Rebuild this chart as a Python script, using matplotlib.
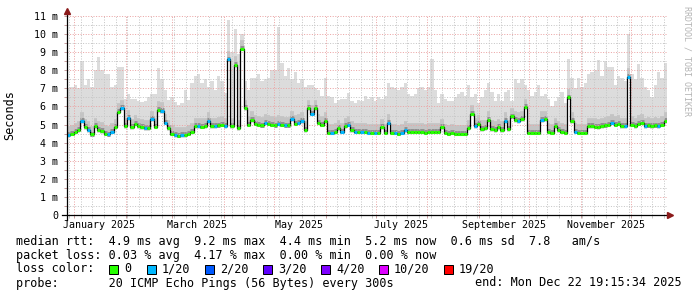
import numpy as np
import matplotlib
matplotlib.use('Agg')
import matplotlib.pyplot as plt
import matplotlib.dates as mdates
from matplotlib.patches import Rectangle
from matplotlib.transforms import blended_transform_factory

# 360 days ending Mon Dec 22 19:15:34 2025, two-day bins
start = np.datetime64('2024-12-27T19:15:34')
end = np.datetime64('2025-12-22T19:15:34')
bin_days = 2

# median rtt per bin (ms)
median = [
    4.42, 4.5, 4.6, 4.7, 5.2, 4.85, 4.7, 4.45, 4.9, 4.7,
    4.65, 4.5, 4.45, 4.6, 4.85, 5.7, 5.9, 4.9, 5.35, 4.85,
    5.05, 4.9, 4.85, 4.8, 4.8, 5.3, 4.88, 5.8, 5.75, 5.1,
    4.8, 4.5, 4.4, 4.38, 4.4, 4.4, 4.5, 4.6, 4.9, 4.9,
    4.88, 4.9, 5.2, 4.9, 4.9,
    4.95, 5.0, 4.9, 8.6, 4.9, 8.3, 4.8, 9.2, 5.9, 5.0,
    5.25, 5.05, 5.0, 4.95, 5.1, 5.05, 5.0, 4.95, 5.05, 5.0,
    4.95, 4.95, 5.3, 5.05, 5.1, 5.2, 4.7, 5.9, 5.6, 5.9,
    5.1, 5.0, 5.2, 4.55, 4.55, 4.6, 4.8, 4.6, 4.9, 5.0,
    4.7, 4.6, 4.6, 4.6, 4.6,
    4.55, 4.55, 4.55, 4.55, 4.85, 4.55, 5.1, 4.55, 4.55, 4.5,
    4.55, 4.7, 4.6, 4.6, 4.6, 4.6, 4.6, 4.55, 4.6, 4.6,
    4.6, 4.6, 4.85, 4.55, 4.5, 4.55, 4.5, 4.5, 4.5, 4.5,
    4.8, 5.6, 4.9, 5.05, 4.75, 4.8, 5.25, 4.75, 4.7, 4.85,
    4.7, 5.2, 4.75, 5.45, 5.25,
    5.2, 5.3, 5.95, 4.55, 4.55, 4.55, 4.55, 5.25, 5.3, 4.6,
    4.55, 4.9, 4.7, 4.6, 4.55, 6.5, 5.2, 4.6, 4.55, 4.55,
    4.55, 4.9, 4.9, 4.88, 4.85, 4.9, 4.95, 5.0, 5.1, 5.0,
    5.05, 4.9, 4.9, 7.65, 5.0, 4.9, 5.05, 5.1, 4.9, 4.95,
    4.9, 4.95, 4.9, 5.0, 5.2,
]

# top of the smoke (slowest ping) per bin (ms)
smoke_top = [
    7.0, 7.1, 7.2, 7.0, 8.5, 7.2, 7.5, 7.1, 8.0, 8.75,
    8.0, 7.8, 7.8, 7.1, 7.2, 8.2, 8.2, 6.4, 6.7, 6.4,
    6.4, 6.3, 6.25, 6.3, 6.5, 6.7, 6.7, 8.1, 7.5, 6.9,
    6.35, 6.5, 6.25, 6.1, 6.2, 6.9, 6.35, 7.3, 7.7, 7.8,
    7.3, 7.5, 7.1, 7.4, 6.9,
    7.7, 7.4, 6.75, 10.8, 9.0, 10.3, 8.9, 10.0, 7.4, 6.9,
    7.6, 7.6, 7.8, 7.4, 7.5, 7.6, 8.0, 8.0, 10.4, 8.4,
    7.7, 8.1, 7.5, 7.9, 7.3, 7.5, 7.1, 7.2, 7.2, 7.0,
    6.9, 6.6, 7.55, 6.6, 6.5, 6.2, 6.35, 6.4, 6.4, 6.75,
    6.3, 6.2, 6.35, 6.3, 6.6,
    6.4, 6.5, 6.3, 6.5, 6.4, 6.6, 7.3, 7.1, 7.0, 6.9,
    7.1, 7.3, 6.7, 6.6, 6.7, 7.0, 7.1, 6.9, 7.1, 8.6,
    6.9, 6.2, 6.7, 6.4, 6.3, 6.3, 6.5, 6.7, 6.8, 6.6,
    7.2, 6.5, 6.7, 6.2, 6.5, 6.9, 7.3, 6.8, 6.3, 6.7,
    6.3, 6.8, 6.9, 6.3, 7.5,
    7.3, 7.5, 7.2, 6.9, 6.6, 6.8, 7.2, 6.6, 6.7, 6.4,
    6.0, 6.3, 6.5, 6.8, 6.2, 8.6, 7.6, 7.0, 7.6, 7.1,
    7.3, 7.8, 7.9, 8.0, 8.55, 7.7, 8.5, 8.2, 8.2, 7.2,
    7.7, 7.6, 7.4, 10.0, 7.8, 7.5, 8.35, 7.6, 7.1, 6.9,
    6.5, 7.2, 7.9, 7.6, 8.4,
]

# bins that lost 1 of 20 pings, all others lost none
loss_1_bins = [0, 4, 6, 12, 13, 16, 18, 23, 25, 28, 29, 32, 34, 39, 42, 44,
               47, 48, 59, 63, 65, 67, 69, 70, 73, 79, 82, 84, 86, 88,
               90, 92, 96, 98, 100, 101, 122, 131,
               135, 142, 152, 163, 167, 168, 173, 177]

loss_labels = ['0', '1/20', '2/20', '3/20', '4/20', '10/20', '19/20']
loss_colors = ['#26ff00', '#00b8ff', '#0059ff', '#5e00ff', '#7e00ff', '#dd00ff', '#ff0000']

y_ticks = list(range(0, 12))
month_labels = ['January 2025', 'March 2025', 'May 2025', 'July 2025',
                'September 2025', 'November 2025']
month_label_dates = ['2025-01-16', '2025-03-16', '2025-05-16', '2025-07-16',
                     '2025-09-16', '2025-11-16']

stats_rtt = 'median rtt:  4.9 ms avg  9.2 ms max  4.4 ms min  5.2 ms now  0.6 ms sd  7.8   am/s'
stats_loss = 'packet loss: 0.03 % avg  4.17 % max  0.00 % min  0.00 % now'
probe_text = 'probe:       20 ICMP Echo Pings (56 Bytes) every 300s'
end_text = 'end: Mon Dec 22 19:15:34 2025'

mono = 'DejaVu Sans Mono'
W, H = 697, 297

n = len(median)
med = np.array(median)
top = np.array(smoke_top)
edges = start + np.arange(n + 1) * np.timedelta64(bin_days, 'D')
edges = edges.astype('datetime64[s]').astype(object)

fig = plt.figure(figsize=(W / 100, H / 100), dpi=100)
ax = fig.add_axes([67 / W, 82 / H, 600 / W, 199 / H])

# smoke
ax.fill_between(edges, np.append(med - 0.15, med[-1] - 0.15), np.append(top, top[-1]),
                step='post', color='#dcdcdc', lw=0, zorder=1)
ax.hlines(med + 0.2, edges[:-1], edges[1:], colors='#c4c4c4', lw=7, zorder=1.2)
ax.hlines(med + 0.05, edges[:-1], edges[1:], colors='#8e8e8e', lw=3.5, zorder=1.4)

# median line
ax.step(edges, np.append(med, med[-1]), where='post', color='black', lw=0.9, zorder=3)
cols = [loss_colors[1] if i in loss_1_bins else loss_colors[0] for i in range(n)]
ax.hlines(med, edges[:-1], edges[1:], colors=cols, lw=2.2, zorder=4)

ax.set_xlim(start.astype(object), end.astype(object))
ax.set_ylim(0, 11)

# grid
ax.xaxis.set_major_locator(mdates.MonthLocator())
ax.xaxis.set_minor_locator(mdates.WeekdayLocator(byweekday=mdates.SU))
ax.xaxis.set_major_formatter(plt.NullFormatter())
ax.set_yticks(y_ticks)
ax.set_yticks(np.arange(0.5, 11, 1.0), minor=True)
ax.set_yticklabels(['0'] + ['%d m' % v for v in y_ticks[1:]], fontfamily=mono, fontsize=7.2)
ax.grid(which='minor', color='#c6c6c6', linestyle=(0, (1, 1.6)), lw=0.72)
ax.grid(which='major', color='#eba4a4', linestyle=(0, (1, 1.6)), lw=0.72)
ax.set_axisbelow(False)
ax.tick_params(which='both', direction='out', length=2.2, width=0.72, color='#c8a0a0', pad=4)
ax.tick_params(axis='x', which='minor', color='#c8c8c8')

for s in ax.spines.values():
    s.set_visible(False)

# axes with arrows
ax.plot([-0.008, 1.0], [0, 0], transform=ax.transAxes, color='black', lw=0.9, clip_on=False, zorder=5)
ax.plot([0, 0], [-0.025, 1.02], transform=ax.transAxes, color='black', lw=0.9, clip_on=False, zorder=5)
ax.plot([1.005], [0], marker='>', ms=4.5, color='#8b1a1a', transform=ax.transAxes, clip_on=False, zorder=6)
ax.plot([0], [1.027], marker='^', ms=4.5, color='#8b1a1a', transform=ax.transAxes, clip_on=False, zorder=6)

trans = blended_transform_factory(ax.transData, ax.transAxes)
for lab, d in zip(month_labels, month_label_dates):
    ax.text(np.datetime64(d).astype(object), -0.052, lab, transform=trans, ha='center', va='center',
            fontfamily=mono, fontsize=7.2)

fig.text(10 / W, 1 - 115 / H, 'Seconds', rotation=90, ha='center', va='center',
         fontfamily=mono, fontsize=8.5)
fig.text(687 / W, 1 - 6 / H, 'RRDTOOL / TOBI OETIKER', rotation=270, ha='center', va='top',
         fontfamily=mono, fontsize=6, color='#b4b4b4')

# legend
fig.text(16 / W, 1 - 241 / H, stats_rtt, ha='left', va='center', fontfamily=mono, fontsize=8.5)
fig.text(16 / W, 1 - 255 / H, stats_loss, ha='left', va='center', fontfamily=mono, fontsize=8.5)
fig.text(16 / W, 1 - 269 / H, 'loss color:', ha='left', va='center', fontfamily=mono, fontsize=8.5)
sq_x = [109, 147, 205, 263, 321, 379, 444]
for x, lab, c in zip(sq_x, loss_labels, loss_colors):
    fig.patches.append(Rectangle((x / W, 1 - 274 / H), 9 / W, 9 / H, transform=fig.transFigure,
                                 facecolor=c, edgecolor='black', lw=0.72))
    fig.text((x + 15) / W, 1 - 269 / H, lab, ha='left', va='center', fontfamily=mono, fontsize=8.5)
fig.text(16 / W, 1 - 283 / H, probe_text, ha='left', va='center', fontfamily=mono, fontsize=8.5)
fig.text(682 / W, 1 - 283 / H, end_text, ha='right', va='center', fontfamily=mono, fontsize=8.5)

fig.savefig('out.png', dpi=100)
